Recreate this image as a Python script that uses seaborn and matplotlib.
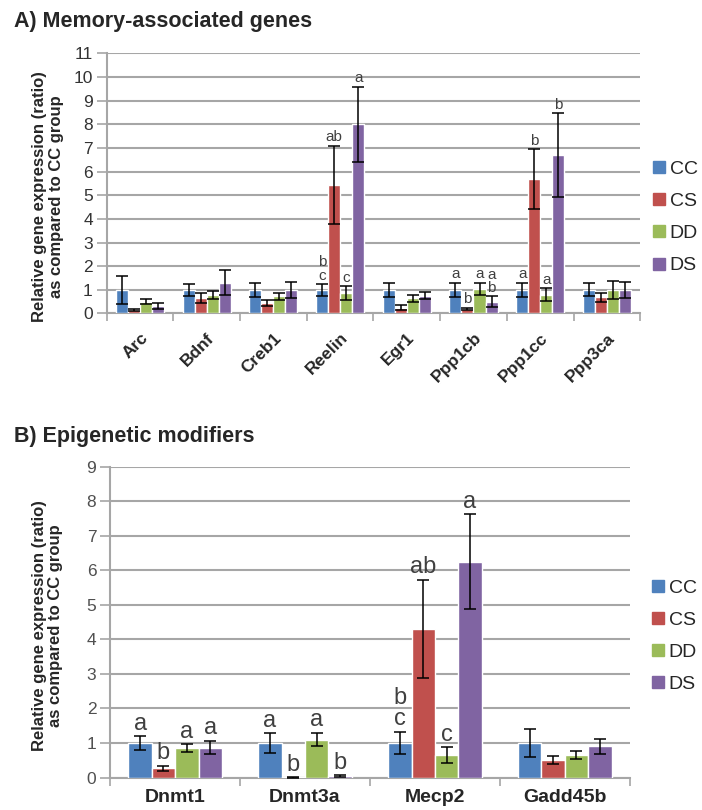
import matplotlib
matplotlib.use("Agg")
import matplotlib.pyplot as plt
from matplotlib.lines import Line2D
import numpy as np
import pandas as pd
import seaborn as sns

# ---- data -------------------------------------------------------------
groups = ["CC", "CS", "DD", "DS"]
colors = ["#4F81BD", "#C0504D", "#9BBB59", "#8064A2"]

genes_a = ["Arc", "Bdnf", "Creb1", "Reelin", "Egr1", "Ppp1cb", "Ppp1cc", "Ppp3ca"]
cc_a = [1.0, 1.0, 1.0, 1.0, 1.0, 1.0, 1.0, 1.0]
cs_a = [0.15, 0.65, 0.45, 5.45, 0.25, 0.2, 5.68, 0.68]
dd_a = [0.5, 0.8, 0.72, 0.85, 0.65, 1.05, 0.8, 1.0]
ds_a = [0.33, 1.3, 1.0, 8.0, 0.75, 0.5, 6.7, 1.0]
cc_a_err = [0.6, 0.25, 0.3, 0.25, 0.3, 0.3, 0.3, 0.27]
cs_a_err = [0.05, 0.2, 0.12, 1.65, 0.1, 0.05, 1.27, 0.2]
dd_a_err = [0.1, 0.17, 0.13, 0.3, 0.15, 0.25, 0.27, 0.37]
ds_a_err = [0.12, 0.53, 0.35, 1.6, 0.15, 0.22, 1.77, 0.35]
cc_a_sig = ["", "", "", "b\nc", "", "a", "a", ""]
cs_a_sig = ["", "", "", "ab", "", "b", "b", ""]
dd_a_sig = ["", "", "", "c", "", "a", "a", ""]
ds_a_sig = ["", "", "", "a", "", "a\nb", "b", ""]

genes_b = ["Dnmt1", "Dnmt3a", "Mecp2", "Gadd45b"]
cc_b = [1.0, 1.0, 1.0, 1.0]
cs_b = [0.27, 0.01, 4.3, 0.5]
dd_b = [0.85, 1.1, 0.65, 0.65]
ds_b = [0.87, 0.05, 6.25, 0.9]
cc_b_err = [0.2, 0.28, 0.33, 0.4]
cs_b_err = [0.08, 0.01, 1.43, 0.12]
dd_b_err = [0.12, 0.2, 0.23, 0.12]
ds_b_err = [0.2, 0.02, 1.38, 0.22]
cc_b_sig = ["a", "a", "b\nc", ""]
cs_b_sig = ["b", "b", "ab", ""]
dd_b_sig = ["a", "a", "c", ""]
ds_b_sig = ["a", "b", "a", ""]

yticks_a = list(range(0, 12))
yticks_b = list(range(0, 10))

# ---- styling ----------------------------------------------------------
sns.set_style("white")
plt.rcParams["font.family"] = ["Liberation Sans", "DejaVu Sans"]
GRID = "#A6A6A6"
TXT = "#404040"


def long_table(genes, series, errs, sigs):
    rows = []
    for g, vals, es, ss in zip(groups, series, errs, sigs):
        for gene, v, e, s in zip(genes, vals, es, ss):
            rows.append({"gene": gene, "group": g, "value": v, "err": e, "sig": s})
    return pd.DataFrame(rows)


def draw_panel(ax, df, genes, yticks, sig_size, xrot, xsize, xpad,
               tick_color, legend_anchor):
    sns.barplot(data=df, x="gene", y="value", hue="group", order=genes,
                hue_order=groups, palette=colors, saturation=1, width=0.72,
                errorbar=None, legend=False, ax=ax, zorder=3)
    # error bars and significance letters, one container per group
    for cont, g in zip(ax.containers, groups):
        sub = df[df.group == g].set_index("gene").loc[genes]
        xs = [p.get_x() + p.get_width() / 2 for p in cont.patches]
        ax.errorbar(xs, sub["value"], yerr=sub["err"], fmt="none",
                    ecolor="black", elinewidth=1.1, capsize=4,
                    capthick=1.1, zorder=4)
        for x, v, e, s in zip(xs, sub["value"], sub["err"], sub["sig"]):
            if s:
                ax.annotate(s, (x, v + e), xytext=(0, 1),
                            textcoords="offset points", ha="center",
                            va="bottom", fontsize=sig_size, color=TXT,
                            linespacing=0.95, zorder=5)

    ax.set_ylim(yticks[0], yticks[-1])
    ax.set_xlim(-0.5, len(genes) - 0.5)
    ax.set_yticks(yticks)
    ax.yaxis.grid(True, color=GRID, linewidth=1.5, zorder=0)
    ax.set_axisbelow(True)
    for side in ("top", "right"):
        ax.spines[side].set_visible(False)
    for side in ("left", "bottom"):
        ax.spines[side].set_color(GRID)
        ax.spines[side].set_linewidth(1.5)
    ax.tick_params(axis="y", length=7, width=1.2, color=GRID, labelsize=12.5,
                   labelcolor=tick_color, pad=3, left=True)
    ax.set_xticks(np.arange(len(genes)))
    ax.set_xticks(np.arange(len(genes) + 1) - 0.5, minor=True)
    ax.tick_params(axis="x", which="major", length=0, pad=xpad)
    ax.tick_params(axis="x", which="minor", length=6, width=1.2,
                   color=GRID, bottom=True)
    if xrot:
        ax.set_xticklabels(genes, rotation=45, ha="right",
                           rotation_mode="anchor", fontsize=xsize,
                           fontweight="bold")
    else:
        ax.set_xticklabels(genes, fontsize=xsize, fontweight="bold")
    ax.set_xlabel("")
    ax.set_ylabel("Relative gene expression (ratio)\nas compared to CC group",
                  fontsize=12, fontweight="bold", linespacing=1.15)

    handles = [Line2D([0], [0], marker="s", linestyle="none", markersize=8,
                      markerfacecolor=c, markeredgecolor=c) for c in colors]
    ax.legend(handles, groups, loc="center left", bbox_to_anchor=legend_anchor,
              frameon=False, fontsize=14, handlelength=0.6,
              handletextpad=0.25, labelspacing=0.75, borderaxespad=0)


fig = plt.figure(figsize=(7.02, 8.10), dpi=100)

ax_a = fig.add_axes([0.152, 0.613, 0.760, 0.321])
df_a = long_table(genes_a, [cc_a, cs_a, dd_a, ds_a],
                  [cc_a_err, cs_a_err, dd_a_err, ds_a_err],
                  [cc_a_sig, cs_a_sig, dd_a_sig, ds_a_sig])
draw_panel(ax_a, df_a, genes_a, yticks_a, 11, True, 12.5, 12, "#333333",
           (1.01, 0.37))
ax_a.yaxis.set_label_coords(-0.08, 0.45)

ax_b = fig.add_axes([0.157, 0.040, 0.740, 0.384])
df_b = long_table(genes_b, [cc_b, cs_b, dd_b, ds_b],
                  [cc_b_err, cs_b_err, dd_b_err, ds_b_err],
                  [cc_b_sig, cs_b_sig, dd_b_sig, ds_b_sig])
draw_panel(ax_b, df_b, genes_b, yticks_b, 17, False, 14, 8, "#505050",
           (1.028, 0.455))
ax_b.yaxis.set_label_coords(-0.09, 0.49)

fig.text(0.02, 0.973, "A) Memory-associated genes", fontsize=15.5,
         fontweight="bold", va="center", ha="left")
fig.text(0.02, 0.461, "B) Epigenetic modifiers", fontsize=15.5,
         fontweight="bold", va="center", ha="left")

fig.savefig("out.png", dpi=100, facecolor="white")
